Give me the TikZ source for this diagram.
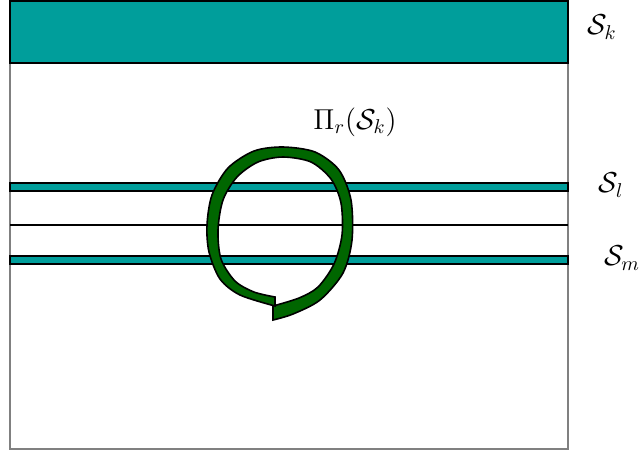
\documentclass[tikz,border=0pt]{standalone}
\usetikzlibrary{positioning}
\definecolor{C0}{RGB}{0,   158, 155}
\definecolor{C1}{RGB}{0,   102,   0}
\definecolor{C2}{RGB}{128, 128, 128}
\tikzset{
  frame/.style={draw=C2, line width=1pt},
  band/.style={draw=black, fill=C0, line width=1pt},
  sep/.style={draw=black, line width=0.9pt},
  loopband/.style={draw=black, fill=C1, line width=0.8pt, line join=miter},
  lbl/.style={inner sep=0pt, font=\Large},
}

\begin{document}
\begin{tikzpicture}[x=0.5pt, y=-0.5pt]

  \useasboundingbox (0,0) rectangle (640,452);

  %% ── Outer frame ────────────────────────────────────────────────────────────

  \draw[frame] (10,1) rectangle (568,449);

  %% ── Bands ──────────────────────────────────────────────────────────────────

  \draw[band] (10,1)   rectangle (568,63);
  \draw[band] (10,183) rectangle (568,191);
  \draw[sep]  (10,225) -- (568,225);
  \draw[band] (10,256) rectangle (568,264);

  %% ── Labels ─────────────────────────────────────────────────────────────────

  \node[lbl] (sk) at (602,27)  {$\mathcal{S}_k$};
  \node[lbl] (sl) at (611,185) {$\mathcal{S}_l$};
  \node[lbl] (sm) at (622,258) {$\mathcal{S}_m$};
  \node[lbl] (pi) at (355,122) {$\Pi_r(\mathcal{S}_k)$};

  %% ── Loop ───────────────────────────────────────────────────────────────────

  \filldraw[loopband]
    plot[smooth] coordinates {(275,306) (240,295) (220,279) (209,252)
      (207,225) (212,195) (228,168) (254,151) (283,147) (315,152)
      (339,170) (351,200) (352,240) (343,273) (320,300) (293,314) (273,320)}
    -- (273,306)
    -- plot[smooth] coordinates {(273,306) (299,298) (318,287) (334,264)
      (342,235) (341,203) (331,179) (311,162) (283,157) (258,162)
      (237,177) (223,200) (218,230) (221,259) (235,281) (254,292) (275,297)}
    -- cycle;

\end{tikzpicture}
\end{document}
